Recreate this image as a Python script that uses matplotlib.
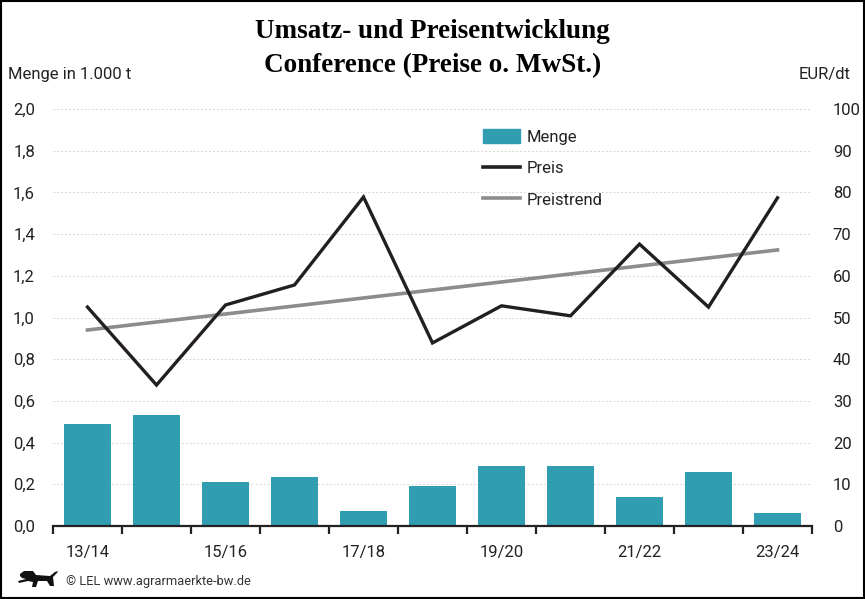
import numpy as np
import matplotlib.pyplot as plt
from matplotlib.patches import Patch, Rectangle, Polygon
from matplotlib.lines import Line2D

plt.rcParams['font.family'] = ['Roboto', 'DejaVu Sans']

# data
seasons = ['13/14', '14/15', '15/16', '16/17', '17/18', '18/19',
           '19/20', '20/21', '21/22', '22/23', '23/24']
menge = [0.49, 0.53, 0.21, 0.235, 0.07, 0.19, 0.29, 0.29, 0.14, 0.26, 0.06]
preis = [52.5, 33.8, 53.0, 57.8, 78.9, 43.9, 52.8, 50.4, 67.6, 52.5, 78.7]
trend_ends = [47.0, 66.2]

bar_col = '#319db0'
line_col = '#231f20'
trend_col = '#8c8c8c'
W, H = 865, 599

x = np.arange(len(seasons))

fig = plt.figure(figsize=(8.65, 5.99), dpi=100)
ax = fig.add_axes([53/W, 73/H, 759/W, 417/H])
ax2 = ax.twinx()

ax.bar(x, menge, width=0.67, color=bar_col, zorder=2)
ax2.plot(x, preis, color=line_col, lw=2.4, solid_joinstyle='miter', zorder=3)
ax2.plot([x[0], x[-1]], trend_ends, color=trend_col, lw=2.6, zorder=2)

ax.set_xlim(-0.5, len(seasons) - 0.5)
ax.set_ylim(0, 2.0)
ax2.set_ylim(0, 100)

yt = np.arange(0, 2.01, 0.2)
ax.set_yticks(yt)
ax.set_yticklabels([f'{v:.1f}'.replace('.', ',') for v in yt])
ax2.set_yticks(np.arange(0, 101, 10))

for v in yt[1:]:
    ax.axhline(v, color='#d6d6d6', lw=0.7, ls=(0, (2, 2)), zorder=0)

ax.set_xticks(x[::2])
ax.set_xticklabels(seasons[::2])
ax.set_xticks(np.arange(-0.5, len(seasons)), minor=True)
ax.tick_params(axis='x', which='major', length=0, pad=14, labelsize=12, colors='#222222')
ax.tick_params(axis='x', which='minor', length=6, width=1.6, color='#222222')
ax.tick_params(axis='y', length=0, pad=13, labelsize=12, colors='#222222')
ax2.tick_params(axis='y', length=0, pad=15, labelsize=12, colors='#222222')

for a in (ax, ax2):
    for s in ('top', 'left', 'right'):
        a.spines[s].set_visible(False)
ax2.spines['bottom'].set_visible(False)
ax.spines['bottom'].set_linewidth(1.6)
ax.spines['bottom'].set_color('#222222')

handles = [Patch(color=bar_col),
           Line2D([], [], color=line_col, lw=2.6),
           Line2D([], [], color=trend_col, lw=2.6)]
leg = ax.legend(handles, ['Menge', 'Preis', 'Preistrend'], loc='upper left',
                bbox_to_anchor=(430/759, 1 - 20/417), frameon=False,
                fontsize=12, handlelength=2.2, handleheight=0.9,
                handletextpad=0.4, labelspacing=0.95, borderaxespad=0,
                borderpad=0)
for t in leg.get_texts():
    t.set_color('#222222')

fig.text(0.5, 1 - 32/H, 'Umsatz- und Preisentwicklung', ha='center', va='center',
         family='Liberation Serif', weight='bold', fontsize=19.5)
fig.text(0.5, 1 - 66/H, 'Conference (Preise o. MwSt.)', ha='center', va='center',
         family='Liberation Serif', weight='bold', fontsize=19.5)
fig.text(8/W, 1 - 74/H, 'Menge in 1.000 t', ha='left', va='center',
         fontsize=12, color='#222222')
fig.text(851/W, 1 - 74/H, 'EUR/dt', ha='right', va='center',
         fontsize=12, color='#222222')
fig.text(66/W, 1 - 581/H, '\u00a9 LEL www.agrarmaerkte-bw.de', ha='left',
         va='center', fontsize=9.3, color='#333333')

# rough lion logo
lion = [(20, 574), (24, 571), (33, 571), (36, 575), (50, 576), (55, 572),
        (58, 571), (57, 573), (53, 577), (54, 586), (50, 586), (47, 581),
        (38, 581), (36, 587), (32, 587), (33, 582), (28, 581), (19, 583),
        (18, 581), (26, 579), (22, 578), (20, 576)]
fig.patches.append(Polygon([(px / W, 1 - py / H) for px, py in lion],
                           closed=True, transform=fig.transFigure,
                           facecolor='#111111', edgecolor='none'))

fig.patches.append(Rectangle((0.001, 0.001), 0.998, 0.998, transform=fig.transFigure,
                             fill=False, edgecolor='black', lw=1.5))

fig.savefig('out.png', dpi=100)
